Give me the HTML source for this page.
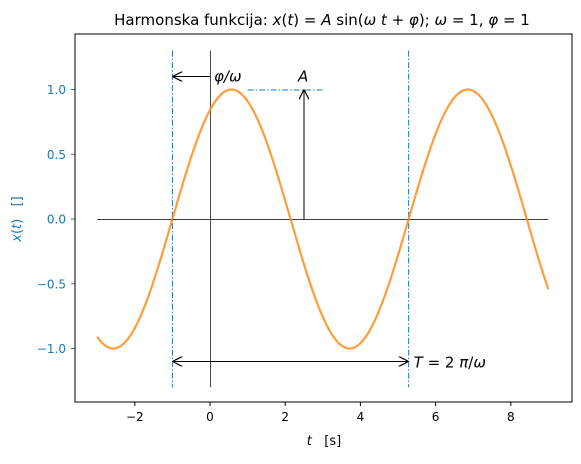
<!DOCTYPE html>
<html><head><meta charset="utf-8"><style>
body{margin:0;background:#fff}
svg text{font-family:"DejaVu Sans","Liberation Sans",sans-serif;white-space:pre}
</style></head><body>
<svg id="c" width="581" height="459" xmlns="http://www.w3.org/2000/svg">
<defs>
<marker id="ah" viewBox="0 0 10 10" refX="10" refY="5" markerWidth="10" markerHeight="10" markerUnits="userSpaceOnUse" orient="auto-start-reverse"><path d="M0,0 L10,5 L0,10" fill="none" stroke="#000" stroke-width="1.2"/></marker>
</defs>
<text x="322" y="25" text-anchor="middle" font-size="15">Harmonska funkcija: <tspan font-style="italic">x</tspan>(<tspan font-style="italic">t</tspan>) = <tspan font-style="italic">A</tspan> sin(<tspan font-style="italic">ω t</tspan> + <tspan font-style="italic">φ</tspan>); <tspan font-style="italic">ω</tspan> = 1, <tspan font-style="italic">φ</tspan> = 1</text>
<g id="plot"></g>
<rect x="75" y="34" width="497" height="368" fill="none" stroke="#000" stroke-width="1"/>
<text x="324" y="445" text-anchor="middle" font-size="13"><tspan font-style="italic">t</tspan>   [s]</text>
<text transform="translate(21,219) rotate(-90)" text-anchor="middle" font-size="13" fill="#1f77b4"><tspan font-style="italic">x</tspan>(<tspan font-style="italic">t</tspan>)   []</text>
</svg>
<script>
const xTicks=[-2,0,2,4,6,8];
const yTicks=[-1.0,-0.5,0.0,0.5,1.0];
const amplitude=[1];
const omegaArr=[1];
const phiArr=[1];
const A=amplitude[0], omega=omegaArr[0], phi=phiArr[0];
const tStart=-3, tEnd=9;
const X=t=>210+(t)*37.6;
const Y=v=>219-v*129.5;
const g=document.getElementById('plot');
const NS='http://www.w3.org/2000/svg';
function mk(tag,attrs){const e=document.createElementNS(NS,tag);for(const k in attrs)e.setAttribute(k,attrs[k]);g.appendChild(e);return e;}
function fmt(v){const s=Math.abs(v).toFixed(1);return v<0?'−'+s:s;}
xTicks.forEach(t=>{
 const l=mk('line',{x1:X(t),x2:X(t),y1:402,y2:406,stroke:'#000'});
 
 
 const tx=mk('text',{x:X(t),y:421,'text-anchor':'middle','font-size':'12'});
 tx.textContent=t<0?'−'+Math.abs(t):String(t);
 
 
});
yTicks.forEach(v=>{
 const l=mk('line',{x1:71,x2:75,y1:Y(v),y2:Y(v),stroke:'#1f77b4'});
 
 
 const tx=mk('text',{x:66,y:Y(v)+4.5,'text-anchor':'end','font-size':'12',fill:'#1f77b4'});
 tx.textContent=fmt(v);
 
 
});
const T=2*Math.PI/omega, t0=-phi/omega;
let e=mk('line',{x1:X(tStart),x2:X(tEnd),y1:Y(0)+0.5,y2:Y(0)+0.5,stroke:'#000','stroke-width':0.7});

e=mk('line',{x1:X(0)+0.5,x2:X(0)+0.5,y1:Y(1.3),y2:Y(-1.3),stroke:'#000','stroke-width':0.7});

[t0,t0+T].forEach(t=>{
 const l=mk('line',{x1:X(t),x2:X(t),y1:Y(1.3),y2:Y(-1.3),stroke:'#1f77b4','stroke-width':1,'stroke-dasharray':'6,2,1.5,2'});
 
 
});
e=mk('line',{x1:X(1),x2:X(3),y1:Y(A)+0.5,y2:Y(A)+0.5,stroke:'#1f77b4','stroke-width':1,'stroke-dasharray':'6,2,1.5,2'});

let d='';
for(let i=0;i<=600;i++){const t=tStart+(tEnd-tStart)*i/600;const v=A*Math.sin(omega*t+phi);d+=(i?'L':'M')+X(t).toFixed(2)+','+Y(v).toFixed(2);}
e=mk('path',{d:d,fill:'none',stroke:'#ff8c1a','stroke-opacity':0.85,'stroke-width':2.2});

e=mk('line',{x1:X(2.5),x2:X(2.5),y1:Y(0),y2:Y(A),stroke:'#000','marker-end':'url(#ah)'});

e=mk('line',{x1:X(0),x2:X(t0),y1:Y(1.1),y2:Y(1.1),stroke:'#000','marker-end':'url(#ah)'});

e=mk('line',{x1:X(t0),x2:X(t0+T),y1:Y(-1.1),y2:Y(-1.1),stroke:'#000','marker-end':'url(#ah)','marker-start':'url(#ah)'});

e=mk('text',{x:X(2.5)-6,y:Y(1.1)+5,'font-size':'15','font-style':'italic'});e.textContent='A';

e=mk('text',{x:X(0)+4,y:Y(1.1)+5,'font-size':'15','font-style':'italic'});e.textContent='φ/ω';

e=mk('text',{x:X(t0+T)+5,y:Y(-1.1)+6,'font-size':'15'});e.innerHTML='<tspan font-style="italic">T</tspan> = 2 <tspan font-style="italic">π</tspan>/<tspan font-style="italic">ω</tspan>';

</script>
</body></html>
